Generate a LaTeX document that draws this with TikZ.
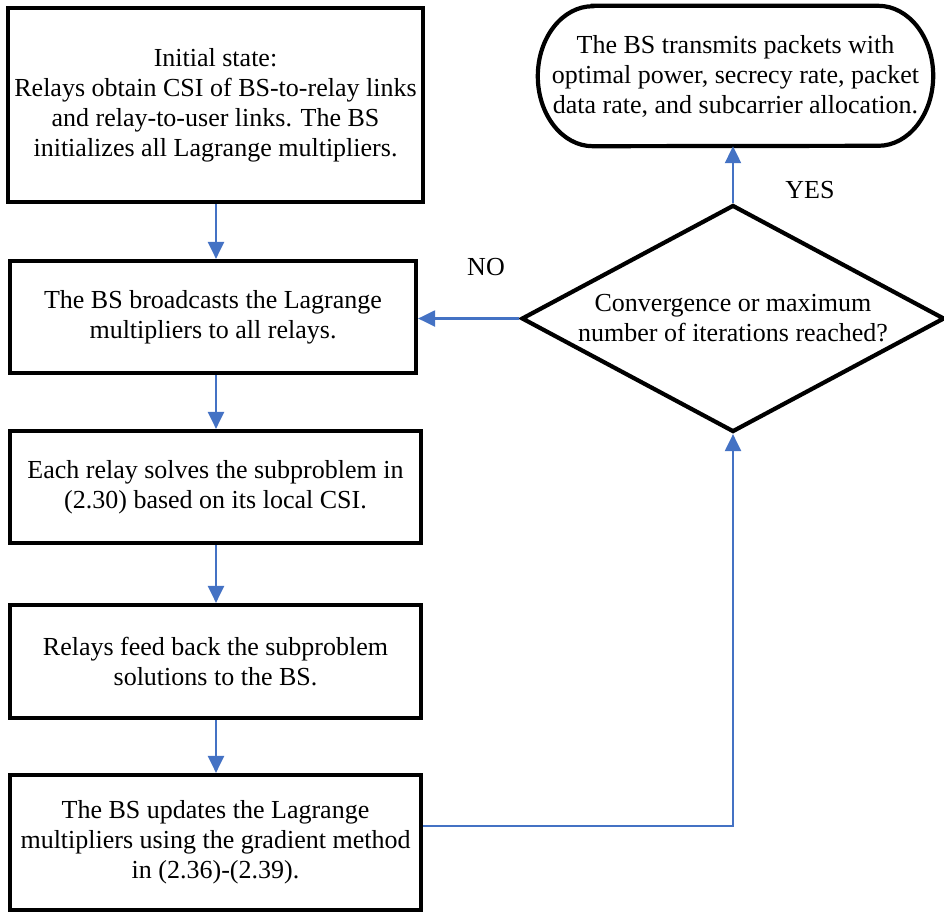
\documentclass[tikz,border=0pt]{standalone}
\usepackage{fontspec}
\setmainfont{Liberation Serif}
\usetikzlibrary{shapes.geometric,arrows.meta}
\definecolor{flowblue}{HTML}{4472C4}
\begin{document}
\begin{tikzpicture}[x=1pt,y=-1pt,
  font=\fontsize{26}{30}\selectfont,
  stepbox/.style={draw=black,line width=4.2pt,rectangle,align=center,inner sep=0pt},
  decision/.style={draw=black,line width=4.2pt,diamond,align=center,inner sep=0pt,
    aspect=1.86,minimum width=423pt,minimum height=227pt},
  flow/.style={draw=flowblue,line width=2.2pt,-{Triangle[width=16pt,length=17pt]}},
  lbl/.style={inner sep=0pt}]
  \useasboundingbox (0,0) rectangle (944,913);

  % process steps
  \node[stepbox,minimum width=415pt,minimum height=194pt] (b1) at (215.5,105)
    {Initial state:\\Relays obtain CSI of BS-to-relay links\\and relay-to-user links. The BS\\initializes all Lagrange multipliers.};
  \node[stepbox,minimum width=406pt,minimum height=112pt] (b2) at (213,317)
    {The BS broadcasts the Lagrange\\multipliers to all relays.};
  \node[stepbox,minimum width=411pt,minimum height=112pt] (b3) at (215.5,487)
    {Each relay solves the subproblem in\\(2.30) based on its local CSI.};
  \node[stepbox,minimum width=411pt,minimum height=113pt] (b4) at (215.5,661.5)
    {Relays feed back the subproblem\\solutions to the BS.};
  \node[stepbox,minimum width=411pt,minimum height=135pt] (b5) at (215.5,842.5)
    {The BS updates the Lagrange\\multipliers using the gradient method\\in (2.36)-(2.39).};

  % convergence test
  \node[decision] (d) at (733,318.5)
    {Convergence or maximum\\number of iterations reached?};

  % terminal step with elliptic ends
  \node[align=center,inner sep=0pt,minimum width=395pt,minimum height=140pt] (term) at (735.5,76)
    {The BS transmits packets with\\optimal power, secrecy rate, packet\\data rate, and subcarrier allocation.};
  \draw[line width=4.2pt]
    ([xshift=55pt]term.north west) -- ([xshift=-55pt]term.north east)
    arc[start angle=90,end angle=-90,x radius=55pt,y radius=70pt]
    -- ([xshift=55pt]term.south west)
    arc[start angle=270,end angle=90,x radius=55pt,y radius=70pt] -- cycle;

  % connectors
  \draw[flow] (b1.south -| 216,0) -- (b2.north -| 216,0);
  \draw[flow] (b2.south -| 216,0) -- (b3.north -| 216,0);
  \draw[flow] (b3.south -| 216,0) -- (b4.north -| 216,0);
  \draw[flow] (b4.south -| 216,0) -- (b5.north -| 216,0);
  \draw[flow] ([yshift=16.5pt]b5.east) -| (d.south);
  \draw[flow] (d.west) -- (d.west -| b2.east);
  \draw[flow] (d.north) -- (d.north |- term.south);

  % branch labels
  \node[lbl] (no) at (486,267) {NO};
  \node[lbl] (yes) at (810,190) {YES};
\end{tikzpicture}
\end{document}
